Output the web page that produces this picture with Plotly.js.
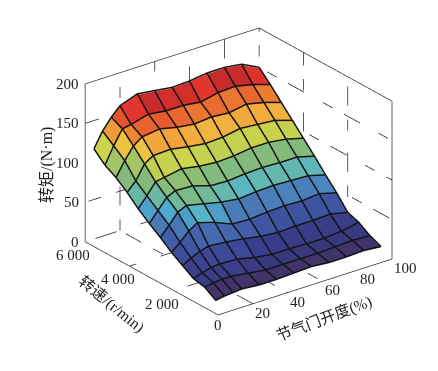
<!DOCTYPE html>
<html><head><meta charset="utf-8">
<script src="https://cdn.plot.ly/plotly-3.0.1.min.js"></script>
<style>html,body{margin:0;padding:0;background:#fff}#g{width:438px;height:371px}</style></head>
<body><div id="g"></div>
<script>
const throttle=[5,10,15,20,30,40,50,60,70,80,90,100];
const speed=[500,1000,1500,2000,2500,3000,3500,4000,4500,5000,5500,6000];
const r500=[6,8,9,10,8,8,9,10,8,8,9,7];
const r1000=[15,17,18,18,15,12,12,12,12,13,14,13];
const r1500=[18,22,25,26,25,20,17,17,16,16,18,22];
const r2000=[27,33,38,41,39,36,32,30,31,31,32,27];
const r2500=[36,45,56,63,56,47,46,48,49,48,50,44];
const r3000=[47,59,72,77,72,67,64,66,67,66,65,59];
const r3500=[57,70,83,88,87,80,79,81,82,81,81,75];
const r4000=[68,81,95,97,101,97,95,96,99,99,96,90];
const r4500=[81,92,110,117,118,114,111,112,116,114,112,105];
const r5000=[92,110,125,133,136,131,128,130,128,132,127,120];
const r5500=[100,121,139,141,147,144,144,141,146,147,142,135];
const r6000=[113,132,146,157,165,162,159,160,163,163,160,149];
const torque=[r500,r1000,r1500,r2000,r2500,r3000,r3500,r4000,r4500,r5000,r5500,r6000];
const xTicks=[0,20,40,60,80,100];
const yTicks=[0,2000,4000,6000];
const yLabels=['0','2 000','4 000','6 000'];
const zTicks=[0,50,100,150,200];
const colorStops=[[0,'#40346a'],[0.06,'#40346a'],[0.07,'#38387f'],[0.118,'#3a4090'],[0.188,'#3f55a2'],[0.276,'#4a7ab8'],[0.33,'#4d9fc8'],[0.365,'#52b4d0'],[0.388,'#62b8b0'],[0.476,'#84bb7c'],[0.53,'#90bf72'],[0.56,'#c2d050'],[0.594,'#cdd34c'],[0.635,'#e6dc48'],[0.653,'#f0b23e'],[0.706,'#f2a03a'],[0.735,'#ee8a34'],[0.765,'#e96c2f'],[0.818,'#e6532d'],[0.83,'#e2332e'],[0.859,'#c82b2b'],[1,'#c42a2a']];

const vx=[],vy=[],vz=[],I=[],J=[],K=[],cell=[];
speed.forEach((s,j)=>throttle.forEach((t,i)=>{vx.push(t);vy.push(s);vz.push(torque[j][i]);}));
const n=throttle.length;
for(let j=0;j<speed.length-1;j++)for(let i=0;i<n-1;i++){
  const a=j*n+i,b=a+1,c=a+n,d=c+1;
  const m=vz[a];
  I.push(a,a);J.push(b,d);K.push(d,c);cell.push(m,m);
}
const lx=[],ly=[],lz=[];
const lift=1.2;
speed.forEach((s,j)=>{throttle.forEach((t,i)=>{lx.push(t);ly.push(s);lz.push(torque[j][i]+lift);});lx.push(null);ly.push(null);lz.push(null);});
throttle.forEach((t,i)=>{speed.forEach((s,j)=>{lx.push(t);ly.push(s);lz.push(torque[j][i]+lift);});lx.push(null);ly.push(null);lz.push(null);});

const gx=[],gy=[],gz=[];
function seg(a,b){gx.push(a[0],b[0],null);gy.push(a[1],b[1],null);gz.push(a[2],b[2],null);}
xTicks.slice(1).forEach(t=>{seg([t,6000,0],[t,6000,200]);if(t<100)seg([t,0,0],[t,6000,0]);});
yTicks.slice(1,3).forEach(s=>{seg([100,s,0],[100,s,200]);seg([0,s,0],[100,s,0]);});
zTicks.slice(1,4).forEach(z=>{seg([0,6000,z],[100,6000,z]);seg([100,6000,z],[100,0,z]);});
seg([0,6000,0],[100,6000,0]);seg([100,6000,0],[100,0,0]);
const bx=[0,0,100,100,100,0,0],by=[6000,6000,6000,0,0,0,6000],bz=[0,200,200,200,0,0,0];

const noAxis={showgrid:false,zeroline:false,showline:false,showbackground:false,showspikes:false,ticks:'',showticklabels:false,title:{text:''}};
const traces=[
 {type:'scatter3d',mode:'lines',x:gx,y:gy,z:gz,line:{color:'#222',width:1.5,dash:'dashdot'},hoverinfo:'skip',showlegend:false},
 {type:'scatter3d',mode:'lines',x:bx,y:by,z:bz,line:{color:'#333',width:1.5},hoverinfo:'skip',showlegend:false},
 {type:'mesh3d',x:vx,y:vy,z:vz,i:I,j:J,k:K,intensity:cell,intensitymode:'cell',colorscale:colorStops,cmin:0,cmax:170,showscale:false,flatshading:true,
  lighting:{ambient:1,diffuse:0,specular:0,fresnel:0,roughness:1},hoverinfo:'skip'},
 {type:'scatter3d',mode:'lines',x:lx,y:ly,z:lz,line:{color:'#141414',width:3},hoverinfo:'skip',showlegend:false}
];
const font={family:'"Liberation Serif","Noto Sans CJK SC"',size:15.5,color:'#222'};
const tickFont={family:'"Liberation Serif"',size:15,color:'#222'};
const sa=[];
zTicks.forEach(z=>sa.push({x:0,y:6000,z:z,text:String(z),showarrow:false,font:tickFont,xanchor:'right',xshift:-4,yshift:0}));
yTicks.forEach((s,i)=>sa.push({x:0,y:s,z:0,text:yLabels[i],showarrow:false,font:tickFont,xshift:i?-12:0,yshift:i?-13:-10}));
xTicks.slice(1).forEach(t=>sa.push({x:t,y:0,z:0,text:String(t),showarrow:false,font:tickFont,xshift:t==100?13:10,yshift:-9}));
const cx=-0.1032,cy=0.0391,cz=-0.0688;
const layout={width:438,height:371,margin:{l:0,r:0,t:0,b:0},paper_bgcolor:'#fff',showlegend:false,
 scene:{domain:{x:[0,1],y:[0,1]},aspectmode:'manual',aspectratio:{x:1.18,y:1.18,z:0.938},
  camera:{eye:{x:-0.94+cx,y:-1.23+cy,z:0.718+cz},center:{x:cx,y:cy,z:cz},up:{x:0,y:0,z:1},projection:{type:'orthographic'}},
  xaxis:Object.assign({},noAxis,{range:[0,100],tickvals:xTicks}),
  yaxis:Object.assign({},noAxis,{range:[0,6000],tickvals:yTicks}),
  zaxis:Object.assign({},noAxis,{range:[0,200],tickvals:zTicks}),
  annotations:sa},
 annotations:[
  {xref:'paper',yref:'paper',x:111/438,y:1-304/371,xanchor:'center',yanchor:'middle',text:'转速/(r/min)',textangle:39,showarrow:false,font:font},
  {xref:'paper',yref:'paper',x:324/438,y:1-319/371,xanchor:'center',yanchor:'middle',text:'节气门开度(%)',textangle:-21,showarrow:false,font:font},
  {xref:'paper',yref:'paper',x:47/438,y:1-165/371,xanchor:'center',yanchor:'middle',text:'转矩/(N·m)',textangle:-90,showarrow:false,font:Object.assign({},font,{size:16})}
 ]};
Plotly.newPlot('g',traces,layout,{displayModeBar:false});
</script></body></html>
